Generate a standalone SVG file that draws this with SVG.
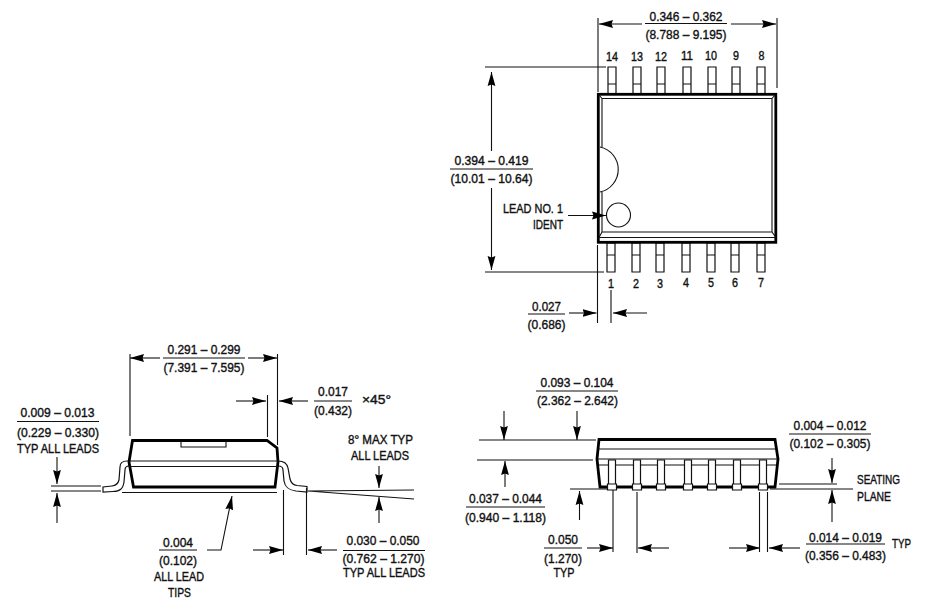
<svg xmlns="http://www.w3.org/2000/svg" width="926" height="609" viewBox="0 0 926 609">
<style>
text{font-family:"Liberation Sans",Arial,sans-serif;font-size:13.5px;fill:#111;stroke:#111;stroke-width:.4;text-anchor:middle}
.l{fill:none;stroke:#111;stroke-width:1.1}
.a{fill:none;stroke:#111;stroke-width:1.1;marker-end:url(#ah)}
.t{fill:none;stroke:#000;stroke-width:2.8;stroke-linejoin:miter}
.f{fill:#fff;stroke:#111;stroke-width:1.2}
</style>
<defs>
<marker id="ah" markerUnits="userSpaceOnUse" markerWidth="15" markerHeight="9" refX="14" refY="4.5" orient="auto"><path d="M0,.6 L14,4.5 L0,8.400 L1.500,4.500 Z" fill="#000"/></marker>
</defs>
<rect width="926" height="609" fill="#fff"/>

<g id="top-view">
<g id="top-leads">
<path class="f" d="M608,67h8v27h-8zM608,84h8M633,67h8v27h-8zM633,84h8M657,67h8v27h-8zM657,84h8M683,67h8v27h-8zM683,84h8M708,67h8v27h-8zM708,84h8M732,67h8v27h-8zM732,84h8M757,67h8v27h-8zM757,84h8"/>
<path class="f" d="M607,243h8v29h-8zM607,255h8M632,243h8v29h-8zM632,255h8M656,243h8v29h-8zM656,255h8M682,243h8v29h-8zM682,255h8M707,243h8v29h-8zM707,255h8M731,243h8v29h-8zM731,255h8M757,243h8v29h-8zM757,255h8"/>
</g>
<rect class="t" x="598.300" y="94.300" width="177.500" height="148"/>
<path class="l" d="M602,147V98.500H772V232H602V192M599,95L602,98.500M775,95L772,98.500M598,237.500H776M772,232L776,237.500M602,232L599,237.500"/>
<path class="l" d="M600,147A23,23 0 0 1 600,192"/>
<circle class="l" cx="618.500" cy="215" r="12"/>
</g>
<g id="top-labels">
<text x="612" y="61" textLength="12" lengthAdjust="spacingAndGlyphs">14</text><text x="637" y="61" textLength="12" lengthAdjust="spacingAndGlyphs">13</text><text x="661" y="61" textLength="12" lengthAdjust="spacingAndGlyphs">12</text><text x="687" y="60" textLength="12" lengthAdjust="spacingAndGlyphs">11</text><text x="711" y="60" textLength="12" lengthAdjust="spacingAndGlyphs">10</text><text x="736" y="60" textLength="6" lengthAdjust="spacingAndGlyphs">9</text><text x="761.500" y="60" textLength="6" lengthAdjust="spacingAndGlyphs">8</text>
<text x="611" y="288" textLength="6" lengthAdjust="spacingAndGlyphs">1</text><text x="636" y="288" textLength="6" lengthAdjust="spacingAndGlyphs">2</text><text x="660" y="288" textLength="6" lengthAdjust="spacingAndGlyphs">3</text><text x="686" y="287" textLength="6" lengthAdjust="spacingAndGlyphs">4</text><text x="711" y="287" textLength="6" lengthAdjust="spacingAndGlyphs">5</text><text x="735" y="287" textLength="6" lengthAdjust="spacingAndGlyphs">6</text><text x="761" y="287" textLength="6" lengthAdjust="spacingAndGlyphs">7</text>
<text x="686" y="20.500" textLength="73" lengthAdjust="spacingAndGlyphs">0.346 – 0.362</text>
<text x="686" y="39" textLength="81" lengthAdjust="spacingAndGlyphs">(8.788 – 9.195)</text>
<text x="491.500" y="165" textLength="74" lengthAdjust="spacingAndGlyphs">0.394 – 0.419</text>
<text x="491.500" y="183" textLength="82" lengthAdjust="spacingAndGlyphs">(10.01 – 10.64)</text>
<text x="533" y="213" textLength="60" lengthAdjust="spacingAndGlyphs">LEAD NO. 1</text>
<text x="548" y="229" textLength="30" lengthAdjust="spacingAndGlyphs">IDENT</text>
<text x="546.500" y="310.500" textLength="29" lengthAdjust="spacingAndGlyphs">0.027</text>
<text x="546.500" y="329" textLength="38" lengthAdjust="spacingAndGlyphs">(0.686)</text>
</g>

<g id="left-view">
<path class="f" d="M127,461C122,461 120,463 120,467L119,480C118,484 116,485.500 112,486L103,487V492L113,491.500C120,491 123,489 124,482L125,470C125,467 126,466 129,466"/>
<path class="f" d="M278,461C284,461 287,463 288,468L290,479C291,483 293,485 297,485.500L307,486.500V492L296,491C288,490 285,487 284,481L283,470C283,467 281,466 278,466"/>
<path class="t" d="M132.500,440.500H267L277,448L278,462L275,487H133.500L129,462Z"/>
<path class="l" d="M127,461H279M129,466.500H279M181,441V447H226V441"/>
<path class="l" stroke-width=".7" d="M122,492.500H277"/>
</g>
<g id="left-labels">
<text x="204" y="354" textLength="73" lengthAdjust="spacingAndGlyphs">0.291 – 0.299</text>
<text x="204" y="372" textLength="81" lengthAdjust="spacingAndGlyphs">(7.391 – 7.595)</text>
<text x="333" y="396" textLength="30" lengthAdjust="spacingAndGlyphs">0.017</text>
<text x="333" y="415" textLength="38" lengthAdjust="spacingAndGlyphs">(0.432)</text>
<text x="376.500" y="404" textLength="29" lengthAdjust="spacingAndGlyphs">×45°</text>
<text x="57.500" y="417" textLength="74" lengthAdjust="spacingAndGlyphs">0.009 – 0.013</text>
<text x="58" y="437" textLength="82" lengthAdjust="spacingAndGlyphs">(0.229 – 0.330)</text>
<text x="58" y="453" textLength="82" lengthAdjust="spacingAndGlyphs">TYP ALL LEADS</text>
<text x="380.500" y="444" textLength="65" lengthAdjust="spacingAndGlyphs">8° MAX TYP</text>
<text x="380" y="460" textLength="58" lengthAdjust="spacingAndGlyphs">ALL LEADS</text>
<text x="383" y="545" textLength="73" lengthAdjust="spacingAndGlyphs">0.030 – 0.050</text>
<text x="383.500" y="563" textLength="82" lengthAdjust="spacingAndGlyphs">(0.762 – 1.270)</text>
<text x="384" y="577" textLength="82" lengthAdjust="spacingAndGlyphs">TYP ALL LEADS</text>
<text x="178" y="547" textLength="30" lengthAdjust="spacingAndGlyphs">0.004</text>
<text x="178" y="565" textLength="38" lengthAdjust="spacingAndGlyphs">(0.102)</text>
<text x="179" y="581" textLength="50" lengthAdjust="spacingAndGlyphs">ALL LEAD</text>
<text x="179.500" y="597" textLength="23" lengthAdjust="spacingAndGlyphs">TIPS</text>
</g>

<g id="right-view">
<path class="l" d="M599,465H778" stroke-width="1.600"/>
<path class="t" d="M599,439.500H775L778,459L775,487H600L597,459Z"/>
<path class="l" d="M598,449H776M598,459H777"/>
<path class="f" d="M608.500,460h7v24h-7zM607.500,484h9v6h-9zM633.500,460h7v24h-7zM632.500,484h9v6h-9zM657.500,460h7v24h-7zM656.500,484h9v6h-9zM684.500,460h7v24h-7zM683.500,484h9v6h-9zM708.500,460h7v24h-7zM707.500,484h9v6h-9zM733.500,460h7v24h-7zM732.500,484h9v6h-9zM759.500,460h7v24h-7zM758.500,484h9v6h-9z"/>
</g>
<g id="right-labels">
<text x="577" y="387" textLength="73" lengthAdjust="spacingAndGlyphs">0.093 – 0.104</text>
<text x="577.500" y="405" textLength="81" lengthAdjust="spacingAndGlyphs">(2.362 – 2.642)</text>
<text x="505.500" y="503" textLength="73" lengthAdjust="spacingAndGlyphs">0.037 – 0.044</text>
<text x="505.500" y="522" textLength="81" lengthAdjust="spacingAndGlyphs">(0.940 – 1.118)</text>
<text x="830" y="430" textLength="73" lengthAdjust="spacingAndGlyphs">0.004 – 0.012</text>
<text x="830" y="448" textLength="81" lengthAdjust="spacingAndGlyphs">(0.102 – 0.305)</text>
<text x="878.500" y="484" textLength="43" lengthAdjust="spacingAndGlyphs">SEATING</text>
<text x="874" y="501" textLength="34" lengthAdjust="spacingAndGlyphs">PLANE</text>
<text x="563" y="544" textLength="30" lengthAdjust="spacingAndGlyphs">0.050</text>
<text x="563" y="563" textLength="38" lengthAdjust="spacingAndGlyphs">(1.270)</text>
<text x="564" y="577" textLength="21" lengthAdjust="spacingAndGlyphs">TYP</text>
<text x="845.500" y="542" textLength="73" lengthAdjust="spacingAndGlyphs">0.014 – 0.019</text>
<text x="845.500" y="560" textLength="81" lengthAdjust="spacingAndGlyphs">(0.356 – 0.483)</text>
<text x="901.500" y="548" textLength="19" lengthAdjust="spacingAndGlyphs">TYP</text>
</g>

<g id="connectors">
<path class="l" d="M645,23.500H727M450,169H533M528,314H565M598,18V92M777,18V88M485,67H606M485,272H604M597.500,245V323M611,290V323"/>
<path class="a" d="M642,24H599"/><path class="a" d="M731,24H776"/>
<path class="a" d="M491.500,151V72"/><path class="a" d="M491.500,188V270"/>
<path class="a" d="M568,215.500H606"/>
<path class="a" d="M569,313H596.500"/><path class="a" d="M647,313H613"/>

<path class="l" d="M163,358H245M314,401H352M17,421.500H99M343,550.500H425M159,550H197M130,354V436M277.500,354V445M267.500,395V437M51,486H101M51,491H101M283.500,490V555M306.500,488V555M308,491L414,490M308,491L414,499"/>
<path class="a" d="M160,358H130"/><path class="a" d="M248,358H277"/>
<path class="a" d="M236,401H266"/><path class="a" d="M308,401H279"/>
<path class="a" d="M57,457V484"/><path class="a" d="M57,523V493"/>
<path class="a" d="M379,466V488"/><path class="a" d="M379,523V497"/>
<path class="a" d="M253,550H283"/><path class="a" d="M337,550H308"/>
<path class="a" d="M207,550H221L232,496"/>

<path class="l" d="M536,391H618M466,507H545M789,434H871M544,548H582M806,544H885M479,440H596M477,460H593M570,489H607M770,489H853M779,484H837M613,490V552M637,492V553M759.500,492V552M767.500,492V552"/>
<path class="a" d="M504,411V440"/><path class="a" d="M577,411V440"/>
<path class="a" d="M505,487V461"/><path class="a" d="M579.500,520V491"/>
<path class="a" d="M832,458V483"/><path class="a" d="M832,522V490"/>
<path class="a" d="M587,548H613"/><path class="a" d="M669,548H638"/>
<path class="a" d="M729,548H760"/><path class="a" d="M800,548H769"/>
</g>
</svg>
